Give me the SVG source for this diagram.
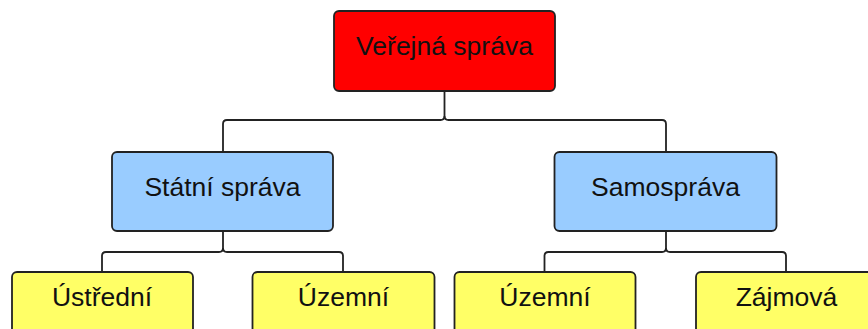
<svg xmlns="http://www.w3.org/2000/svg" width="868" height="329" viewBox="0 0 868 329">
<style>
.box{stroke:#222;stroke-width:1.8}
.red{fill:#ff0000}.blue{fill:#99ccff}.yellow{fill:#ffff66}
text{font-family:"Liberation Sans",Arial,sans-serif;font-size:26.5px;fill:#111;text-anchor:middle}
.conn path{fill:none;stroke:#222;stroke-width:1.8}
</style>
<rect width="868" height="329" fill="#fff"/>
<g class="conn" id="connectors">
<path d="M444.5,91 V116 Q444.5,120 440.5,120 H227 Q223,120 223,124 V152"/>
<path d="M444.5,116 Q444.5,120 448.5,120 H662 Q666,120 666,124 V152"/>
<path d="M223,231 V248 Q223,252 219,252 H106 Q102,252 102,256 V272"/>
<path d="M223,248 Q223,252 227,252 H339 Q343,252 343,256 V272"/>
<path d="M666,231 V248 Q666,252 662,252 H548.5 Q544.5,252 544.5,256 V272"/>
<path d="M666,248 Q666,252 670,252 H782 Q786,252 786,256 V272"/>
</g>
<g id="verejna"><rect class="box red" x="334" y="11" width="221" height="80" rx="5"/><text x="444.5" y="55">Veřejná správa</text></g>
<g id="statni"><rect class="box blue" x="112" y="152" width="221" height="79" rx="5"/><text x="222.5" y="196">Státní správa</text></g>
<g id="samosprava"><rect class="box blue" x="554.5" y="152" width="222" height="79" rx="5"/><text x="665.5" y="196">Samospráva</text></g>
<g id="ustredni"><rect class="box yellow" x="12" y="272" width="181" height="79" rx="5"/><text x="102" y="306">Ústřední</text></g>
<g id="uzemni1"><rect class="box yellow" x="252.5" y="272" width="182" height="79" rx="5"/><text x="343.5" y="306">Územní</text></g>
<g id="uzemni2"><rect class="box yellow" x="454.5" y="272" width="181" height="79" rx="5"/><text x="545" y="306">Územní</text></g>
<g id="zajmova"><rect class="box yellow" x="696" y="272" width="181" height="79" rx="5"/><text x="786.5" y="306">Zájmová</text></g>
</svg>
